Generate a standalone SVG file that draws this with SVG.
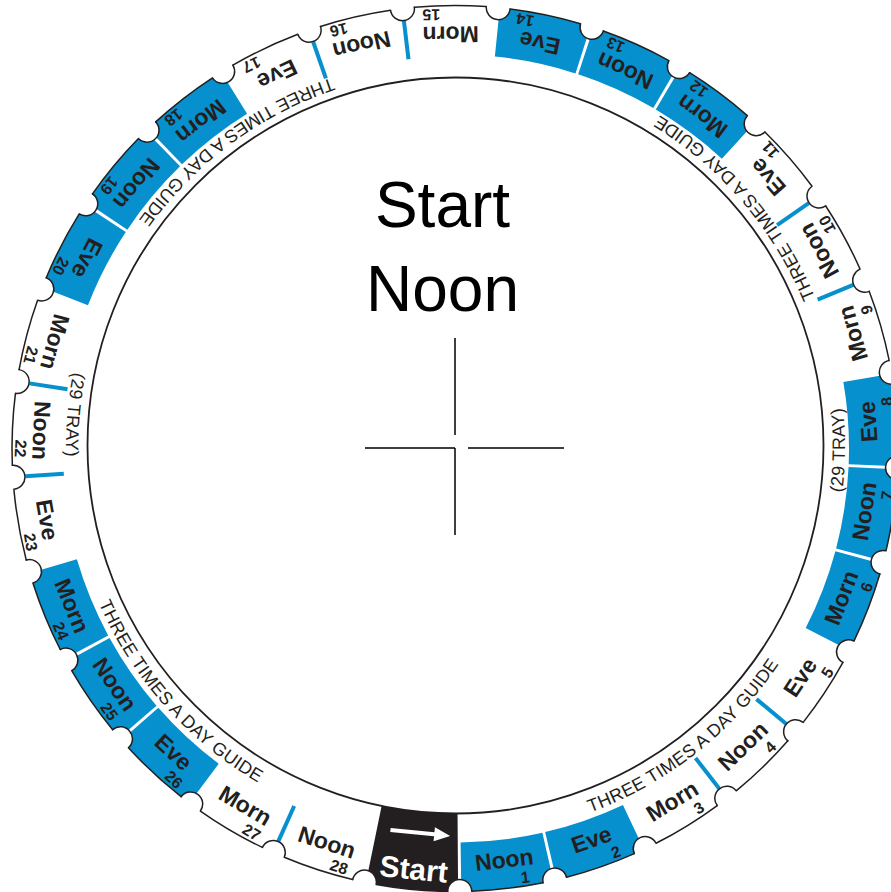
<svg xmlns="http://www.w3.org/2000/svg" xmlns:xlink="http://www.w3.org/1999/xlink" width="891" height="892" viewBox="0 0 891 892">
<style>
.lbl{font-family:"Liberation Sans",Arial,sans-serif;font-weight:bold;font-size:23px;fill:#231f20;text-anchor:middle}
.num{font-family:"Liberation Sans",Arial,sans-serif;font-weight:bold;font-size:16px;fill:#231f20;text-anchor:middle}
.band{font-family:"Liberation Sans",Arial,sans-serif;font-size:18px;fill:#231f20;text-anchor:middle;letter-spacing:0.25px}
.big{font-family:"Liberation Sans",Arial,sans-serif;font-size:64px;fill:#000;text-anchor:middle}
.blue{fill:#0790ce}
.tick{stroke:#0790ce;stroke-width:4}
.rim{fill:none;stroke:#231f20;stroke-width:1.5;stroke-linecap:round;stroke-linejoin:round}
.cross{stroke:#000;stroke-width:1.5;fill:none}
</style>
<defs>
<path id="sector" d="M41.184,391.842 L45.063,428.742 A12,12 0 0 0 35.950,441.539 A443,443 0 0 1 -35.950,441.539 A12,12 0 0 0 -45.063,428.742 L-41.184,391.842 A394,394 0 0 0 41.184,391.842 Z"/>
<path id="startSector" d="M38.153,363.001 L45.063,428.742 A12,12 0 0 0 35.950,441.539 A443,443 0 0 1 -35.950,441.539 A12,12 0 0 0 -45.063,428.742 L-38.153,363.001 A365,365 0 0 0 38.153,363.001 Z"/>
<path id="rimPiece" d="M35.950,441.539 A443,443 0 0 1 -35.950,441.539 A12,12 0 0 0 -59.808,438.944"/>
<line id="tick" x1="42.382" y1="389.702" x2="46.545" y2="427.976"/>
<path id="bandPath" d="M455.5,836.5 A389.5,389.5 0 1 0 455.5,57.5 A389.5,389.5 0 1 0 455.5,836.5" fill="none"/>
</defs>
<rect width="891" height="892" fill="#fff"/>

<g id="dial" transform="translate(455,448.5) rotate(5.6)">
 <g id="start" transform="rotate(0)">
  <use href="#startSector" fill="#231f20"/>
  <polygon points="-27,384 17,384 17,379 33,386 17,393 17,388 -27,388" fill="#fff"/>
  <text class="lbl" y="433" style="font-size:30px;fill:#fff">Start</text>
 </g>
 <g id="seg1" transform="rotate(-12.4138)"><use href="#sector" class="blue"/><text class="lbl" y="422">Noon</text><text class="num" x="19" y="439.5">1</text></g>
 <g id="seg2" transform="rotate(-24.8276)"><use href="#sector" class="blue"/><text class="lbl" y="422">Eve</text><text class="num" x="19" y="439.5">2</text></g>
 <g id="seg3" transform="rotate(-37.2414)"><text class="lbl" y="422">Morn</text><text class="num" x="19" y="439.5">3</text></g>
 <g id="seg4" transform="rotate(-49.6552)"><text class="lbl" y="422">Noon</text><text class="num" x="19" y="439.5">4</text></g>
 <g id="seg5" transform="rotate(-62.0690)"><text class="lbl" y="422">Eve</text><text class="num" x="19" y="439.5">5</text></g>
 <g id="seg6" transform="rotate(-74.4828)"><use href="#sector" class="blue"/><text class="lbl" y="422">Morn</text><text class="num" x="19" y="439.5">6</text></g>
 <g id="seg7" transform="rotate(-86.8966)"><use href="#sector" class="blue"/><text class="lbl" y="422">Noon</text><text class="num" x="19" y="439.5">7</text></g>
 <g id="seg8" transform="rotate(-99.3103)"><use href="#sector" class="blue"/><text class="lbl" y="422">Eve</text><text class="num" x="19" y="439.5">8</text></g>
 <g id="seg9" transform="rotate(-111.7241)"><text class="lbl" y="422">Morn</text><text class="num" x="19" y="439.5">9</text></g>
 <g id="seg10" transform="rotate(-124.1379)"><text class="lbl" y="422">Noon</text><text class="num" x="19" y="439.5">10</text></g>
 <g id="seg11" transform="rotate(-136.5517)"><text class="lbl" y="422">Eve</text><text class="num" x="19" y="439.5">11</text></g>
 <g id="seg12" transform="rotate(-148.9655)"><use href="#sector" class="blue"/><text class="lbl" y="422">Morn</text><text class="num" x="19" y="439.5">12</text></g>
 <g id="seg13" transform="rotate(-161.3793)"><use href="#sector" class="blue"/><text class="lbl" y="422">Noon</text><text class="num" x="19" y="439.5">13</text></g>
 <g id="seg14" transform="rotate(-173.7931)"><use href="#sector" class="blue"/><text class="lbl" y="422">Eve</text><text class="num" x="19" y="439.5">14</text></g>
 <g id="seg15" transform="rotate(-186.2069)"><text class="lbl" y="422">Morn</text><text class="num" x="19" y="439.5">15</text></g>
 <g id="seg16" transform="rotate(-198.6207)"><text class="lbl" y="422">Noon</text><text class="num" x="19" y="439.5">16</text></g>
 <g id="seg17" transform="rotate(-211.0345)"><text class="lbl" y="422">Eve</text><text class="num" x="19" y="439.5">17</text></g>
 <g id="seg18" transform="rotate(-223.4483)"><use href="#sector" class="blue"/><text class="lbl" y="422">Morn</text><text class="num" x="19" y="439.5">18</text></g>
 <g id="seg19" transform="rotate(-235.8621)"><use href="#sector" class="blue"/><text class="lbl" y="422">Noon</text><text class="num" x="19" y="439.5">19</text></g>
 <g id="seg20" transform="rotate(-248.2759)"><use href="#sector" class="blue"/><text class="lbl" y="422">Eve</text><text class="num" x="19" y="439.5">20</text></g>
 <g id="seg21" transform="rotate(-260.6897)"><text class="lbl" y="422">Morn</text><text class="num" x="19" y="439.5">21</text></g>
 <g id="seg22" transform="rotate(-273.1034)"><text class="lbl" y="422">Noon</text><text class="num" x="19" y="439.5">22</text></g>
 <g id="seg23" transform="rotate(-285.5172)"><text class="lbl" y="422">Eve</text><text class="num" x="19" y="439.5">23</text></g>
 <g id="seg24" transform="rotate(-297.9310)"><use href="#sector" class="blue"/><text class="lbl" y="422">Morn</text><text class="num" x="19" y="439.5">24</text></g>
 <g id="seg25" transform="rotate(-310.3448)"><use href="#sector" class="blue"/><text class="lbl" y="422">Noon</text><text class="num" x="19" y="439.5">25</text></g>
 <g id="seg26" transform="rotate(-322.7586)"><use href="#sector" class="blue"/><text class="lbl" y="422">Eve</text><text class="num" x="19" y="439.5">26</text></g>
 <g id="seg27" transform="rotate(-335.1724)"><text class="lbl" y="422">Morn</text><text class="num" x="19" y="439.5">27</text></g>
 <g id="seg28" transform="rotate(-347.5862)"><text class="lbl" y="422">Noon</text><text class="num" x="19" y="439.5">28</text></g>

 <g id="dividers" class="tick">
  <use href="#tick" transform="rotate(-37.2414)"/>
  <use href="#tick" transform="rotate(-49.6552)"/>
  <use href="#tick" transform="rotate(-111.7241)"/>
  <use href="#tick" transform="rotate(-124.1379)"/>
  <use href="#tick" transform="rotate(-186.2069)"/>
  <use href="#tick" transform="rotate(-198.6207)"/>
  <use href="#tick" transform="rotate(-260.6897)"/>
  <use href="#tick" transform="rotate(-273.1034)"/>
  <use href="#tick" transform="rotate(-335.1724)"/>
 </g>

 <g id="rim" class="rim">
  <use href="#rimPiece" transform="rotate(0)"/>
  <use href="#rimPiece" transform="rotate(-12.4138)"/>
  <use href="#rimPiece" transform="rotate(-24.8276)"/>
  <use href="#rimPiece" transform="rotate(-37.2414)"/>
  <use href="#rimPiece" transform="rotate(-49.6552)"/>
  <use href="#rimPiece" transform="rotate(-62.0690)"/>
  <use href="#rimPiece" transform="rotate(-74.4828)"/>
  <use href="#rimPiece" transform="rotate(-86.8966)"/>
  <use href="#rimPiece" transform="rotate(-99.3103)"/>
  <use href="#rimPiece" transform="rotate(-111.7241)"/>
  <use href="#rimPiece" transform="rotate(-124.1379)"/>
  <use href="#rimPiece" transform="rotate(-136.5517)"/>
  <use href="#rimPiece" transform="rotate(-148.9655)"/>
  <use href="#rimPiece" transform="rotate(-161.3793)"/>
  <use href="#rimPiece" transform="rotate(-173.7931)"/>
  <use href="#rimPiece" transform="rotate(-186.2069)"/>
  <use href="#rimPiece" transform="rotate(-198.6207)"/>
  <use href="#rimPiece" transform="rotate(-211.0345)"/>
  <use href="#rimPiece" transform="rotate(-223.4483)"/>
  <use href="#rimPiece" transform="rotate(-235.8621)"/>
  <use href="#rimPiece" transform="rotate(-248.2759)"/>
  <use href="#rimPiece" transform="rotate(-260.6897)"/>
  <use href="#rimPiece" transform="rotate(-273.1034)"/>
  <use href="#rimPiece" transform="rotate(-285.5172)"/>
  <use href="#rimPiece" transform="rotate(-297.9310)"/>
  <use href="#rimPiece" transform="rotate(-310.3448)"/>
  <use href="#rimPiece" transform="rotate(-322.7586)"/>
  <use href="#rimPiece" transform="rotate(-335.1724)"/>
  <use href="#rimPiece" transform="rotate(-347.5862)"/>
 </g>
</g>

<circle id="inner-circle" cx="455.5" cy="445.5" r="368" fill="none" stroke="#231f20" stroke-width="1.8"/>

<g id="band-labels" class="band">
 <text><textPath href="#bandPath" startOffset="259.7">THREE TIMES A DAY GUIDE</textPath></text>
 <text><textPath href="#bandPath" startOffset="608.4">(29 TRAY)</textPath></text>
 <text><textPath href="#bandPath" startOffset="887.1">THREE TIMES A DAY GUIDE</textPath></text>
 <text><textPath href="#bandPath" startOffset="1471.1">THREE TIMES A DAY GUIDE</textPath></text>
 <text><textPath href="#bandPath" startOffset="1802.1">(29 TRAY)</textPath></text>
 <text><textPath href="#bandPath" startOffset="2117.6">THREE TIMES A DAY GUIDE</textPath></text>
</g>

<g id="center-label">
 <text class="big" x="442.5" y="227">Start</text>
 <text class="big" x="442.5" y="311">Noon</text>
</g>

<g id="crosshair" class="cross">
 <path d="M455,338 V435 M455,448 V535 M365,448 H455 M468,448 H564"/>
</g>
</svg>
